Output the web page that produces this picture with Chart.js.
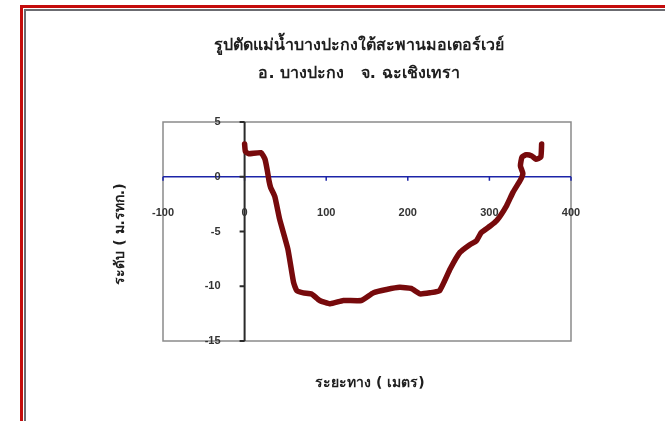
<!DOCTYPE html>
<html>
<head>
<meta charset="utf-8">
<script src="https://cdn.jsdelivr.net/npm/chart.js@4"></script>
<style>
  html, body { margin: 0; padding: 0; background: #fff; }
  #wrap { position: relative; width: 665px; height: 421px; overflow: hidden; }
  #frame { position: absolute; left: 20px; top: 5px; width: 700px; height: 500px;
           border-left: 3px solid #c40c0c; border-top: 3px solid #c40c0c; }
  #frame2 { position: absolute; left: 1px; top: 1px; width: 690px; height: 490px;
            border-left: 2px solid #6b6b70; border-top: 2px solid #6b6b70; }
  canvas { position: absolute; left: 0; top: 0; }
</style>
</head>
<body>
<div id="wrap">
  <div id="frame"><div id="frame2"></div></div>
  <canvas id="myChart" width="665" height="421"></canvas>
</div>
<script>
// หน้าตัดแม่น้ำ: ระยะทาง (เมตร) และระดับ (ม.รทก.)
const distance = [0, 1, 5, 20, 25, 28, 30, 32, 37, 43, 53, 60, 64, 72, 82, 92, 105, 121, 143, 158, 174,
  190, 204, 215, 227, 239, 252, 264, 276, 284, 290, 301, 309, 321, 329, 338, 341, 338, 340, 345, 352, 357, 363, 364];
const level = [3.0, 2.3, 2.1, 2.2, 1.6, 0.5, -0.4, -1.0, -1.8, -3.9, -6.6, -9.65, -10.4, -10.6, -10.7, -11.3, -11.6, -11.3, -11.3, -10.6, -10.3,
  -10.1, -10.2, -10.7, -10.6, -10.4, -8.4, -6.9, -6.2, -5.85, -5.1, -4.5, -4.0, -2.65, -1.4, -0.3, 0.3, 1.0, 1.8, 2.0, 1.9, 1.6, 1.8, 3.0];

const xTicks = [-100, 0, 100, 200, 300, 400];
const yTicks = [5, 0, -5, -10, -15];

const titleLines = ['รูปตัดแม่น้ำบางปะกงใต้สะพานมอเตอร์เวย์', 'อ. บางปะกง   จ. ฉะเชิงเทรา'];
const xTitle = 'ระยะทาง ( เมตร)';
const yTitle = 'ระดับ ( ม.รทก.)';

const points = distance.map((d, i) => ({ x: d, y: level[i] }));

// วาดกรอบ แกน ป้ายกำกับ และชื่อกราฟเอง
const axesPlugin = {
  id: 'axesPlugin',
  beforeDatasetsDraw(chart) {
    const { ctx, chartArea: a, scales: { x, y } } = chart;
    ctx.save();
    ctx.strokeStyle = '#8a8a8a';
    ctx.lineWidth = 1.5;
    ctx.strokeRect(a.left, a.top, a.right - a.left, a.bottom - a.top);

    // เส้นระดับศูนย์
    const y0 = y.getPixelForValue(0);
    ctx.strokeStyle = '#1c24a8';
    ctx.lineWidth = 1.5;
    ctx.beginPath();
    ctx.moveTo(a.left, y0); ctx.lineTo(a.right, y0);
    xTicks.forEach(t => {
      const px = x.getPixelForValue(t);
      ctx.moveTo(px, y0); ctx.lineTo(px, y0 + 4);
    });
    ctx.stroke();

    // แกนตั้งที่ระยะ 0
    const x0 = x.getPixelForValue(0);
    ctx.strokeStyle = '#2a2a2a';
    ctx.lineWidth = 2;
    ctx.beginPath();
    ctx.moveTo(x0, a.top); ctx.lineTo(x0, a.bottom);
    yTicks.forEach(t => {
      const py = y.getPixelForValue(t);
      ctx.moveTo(x0 - 5, py); ctx.lineTo(x0, py);
    });
    ctx.stroke();
    ctx.restore();
  },
  afterDraw(chart) {
    const { ctx, scales: { x, y } } = chart;
    ctx.save();
    ctx.fillStyle = '#333';
    ctx.font = 'bold 11px "Liberation Sans", Arial, sans-serif';
    ctx.textAlign = 'center';
    ctx.textBaseline = 'middle';
    const y0 = y.getPixelForValue(0);
    xTicks.forEach(t => ctx.fillText(String(t), x.getPixelForValue(t), y0 + 36));
    ctx.textAlign = 'right';
    const x0 = x.getPixelForValue(0);
    yTicks.forEach(t => ctx.fillText(String(t), x0 - 24, y.getPixelForValue(t)));

    ctx.fillStyle = '#1e1e1e';
    ctx.textAlign = 'center';
    ctx.font = 'bold 16px "DejaVu Sans", sans-serif';
    ctx.fillText(titleLines[0], 359, 46);
    ctx.fillText(titleLines[1], 359, 74);

    ctx.font = 'bold 14px "DejaVu Sans", sans-serif';
    ctx.fillText(xTitle, 370, 383);
    ctx.translate(120, 234);
    ctx.rotate(-Math.PI / 2);
    ctx.fillText(yTitle, 0, 0);
    ctx.restore();
  }
};

const ctx = document.getElementById('myChart');
new Chart(ctx, {
  type: 'scatter',
  data: {
    datasets: [{
      label: 'ระดับ',
      data: points,
      showLine: true,
      borderColor: '#770a0c',
      borderWidth: 5.5,
      pointRadius: 0,
      tension: 0.15,
      borderCapStyle: 'round',
      borderJoinStyle: 'round'
    }]
  },
  options: {
    responsive: false,
    animation: false,
    layout: { padding: { left: 163, right: 94, top: 122, bottom: 80 } },
    plugins: { legend: { display: false }, tooltip: { enabled: false } },
    scales: {
      x: { type: 'linear', min: -100, max: 400, display: false },
      y: { type: 'linear', min: -15, max: 5, display: false }
    }
  },
  plugins: [axesPlugin]
});
</script>
</body>
</html>
